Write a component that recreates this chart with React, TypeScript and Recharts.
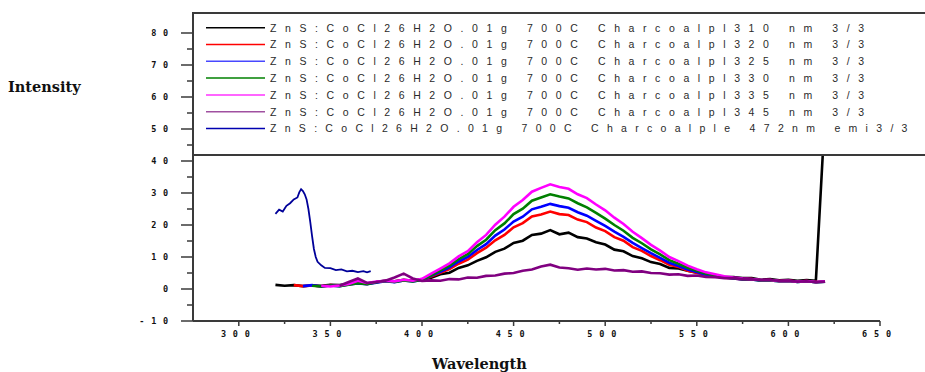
import React from "react"
import { LineChart, Line, XAxis, YAxis } from "recharts"

// emission wavelength grid (nm), shared by the six PL scans
const gridWl = [
  320, 325, 330, 335, 340, 345, 350, 355, 360, 365,
  370, 375, 380, 385, 390, 395, 400, 405, 410, 415,
  420, 425, 430, 435, 440, 445, 450, 455, 460, 465,
  470, 475, 480, 485, 490, 495, 500, 505, 510, 515,
  520, 525, 530, 535, 540, 545, 550, 555, 560, 565,
  570, 575, 580, 585, 590, 595, 600, 605, 610, 615,
  620,
]

const pl310 = [
  1.3, 1.0, 1.2, 0.9, 1.1, 1.0, 1.3, 1.2, 1.6, 1.9,
  1.7, 2.2, 2.6, 2.4, 2.9, 2.6, 3.0, 3.5, 4.6, 5.1,
  6.6, 7.4, 8.8, 9.9, 11.6, 12.6, 14.4, 15.1, 16.9, 17.3,
  18.4, 17.1, 17.6, 16.2, 15.8, 14.6, 13.9, 12.3, 11.8, 10.3,
  9.6, 8.4, 7.8, 6.6, 6.4, 5.7, 5.1, 4.6, 4.3, 3.8,
  3.7, 3.4, 3.4, 2.9, 3.1, 2.7, 2.9, 2.6, 2.8, 2.6,
  55,
]
const pl320 = [
  null, null, 1.2, 0.9, 1.1, 0.8, 1.2, 1.0, 1.5, 1.8,
  1.6, 2.1, 2.5, 2.3, 2.8, 2.5, 2.9, 3.9, 5.1, 6.2,
  7.9, 9.2, 11.2, 12.9, 15.2, 16.9, 19.3, 20.6, 22.7, 23.3,
  24.2, 23.4, 23.1, 21.7, 20.9, 19.2, 18.1, 16.2, 15.1, 13.1,
  11.9, 10.3, 9.0, 7.6, 6.9, 5.7, 5.1, 4.3, 4.0, 3.5,
  3.3, 3.0, 3.1, 2.7, 2.8, 2.5, 2.6, 2.3, 2.5, 2.2,
  2.4,
]
const pl325 = [
  null, null, null, 0.9, 1.2, 0.8, 1.1, 0.9, 1.4, 1.7,
  1.5, 2.0, 2.4, 2.1, 2.7, 2.4, 2.8, 4.1, 5.4, 6.8,
  8.6, 10.0, 12.2, 14.0, 16.7, 18.6, 21.1, 22.6, 24.9, 25.7,
  26.6, 25.9, 25.4, 24.0, 22.9, 21.3, 19.7, 17.9, 16.3, 14.4,
  12.8, 11.2, 9.7, 8.2, 7.2, 6.1, 5.3, 4.5, 4.1, 3.6,
  3.3, 3.0, 3.0, 2.6, 2.7, 2.4, 2.5, 2.2, 2.4, 2.1,
  2.3,
]
const pl330 = [
  null, null, null, null, 1.0, 0.8, 1.1, 0.9, 1.3, 1.8,
  1.5, 2.1, 2.5, 2.2, 2.7, 2.4, 2.9, 4.3, 5.8, 7.3,
  9.3, 10.9, 13.4, 15.4, 18.4, 20.5, 23.4, 25.1, 27.6, 28.6,
  29.6, 28.9, 28.3, 26.8, 25.5, 23.8, 22.0, 20.0, 18.2, 16.0,
  14.3, 12.4, 10.8, 9.0, 7.9, 6.6, 5.7, 4.8, 4.3, 3.7,
  3.4, 3.1, 3.0, 2.7, 2.7, 2.4, 2.5, 2.2, 2.4, 2.1,
  2.3,
]
const pl335 = [
  null, null, null, null, null, 1.0, 0.8, 1.1, 1.6, 2.6,
  1.9, 2.3, 2.6, 2.4, 2.9, 2.6, 3.2, 4.8, 6.4, 8.0,
  10.2, 11.8, 14.6, 16.9, 20.1, 22.6, 25.7, 27.8, 30.4, 31.6,
  32.7, 31.9, 31.3, 29.6, 28.4, 26.4, 24.6, 22.3, 20.3, 17.9,
  15.9, 13.8, 12.0, 10.0, 8.7, 7.3, 6.2, 5.2, 4.6, 4.0,
  3.6, 3.3, 3.1, 2.8, 2.8, 2.5, 2.6, 2.3, 2.5, 2.2,
  2.4,
]
const pl345 = [
  null, null, null, null, null, null, null, 1.0, 2.2, 3.3,
  1.9, 2.2, 2.6, 3.6, 4.8, 3.3, 2.5, 2.7, 2.6, 3.1,
  3.0, 3.6, 3.5, 4.1, 4.2, 4.8, 5.0, 5.7, 6.1, 7.0,
  7.6, 6.7, 6.5, 6.0, 6.4, 6.1, 6.3, 5.8, 5.9, 5.4,
  5.5, 5.0, 4.9, 4.5, 4.6, 4.1, 4.2, 3.8, 3.7, 3.4,
  3.4, 3.1, 3.0, 2.8, 2.9, 2.5, 2.6, 2.3, 2.4, 2.1,
  2.3,
]

// excitation scan (emission fixed at 472 nm)
const pleWl = [
  320, 322, 324, 326, 328, 330, 332, 333, 334, 335,
  336, 337, 338, 339, 340, 341, 342, 343, 345, 347,
  350, 353, 356, 359, 362, 365, 368, 370, 372,
]
const ple472 = [
  23.5, 24.8, 24.2, 26.0, 26.8, 28.0, 28.6, 30.2, 31.2, 30.6,
  29.6, 28.0, 25.0, 21.0, 16.5, 12.5, 10.0, 8.5, 7.4, 6.6,
  6.5, 5.9, 6.1, 5.5, 5.7, 5.3, 5.6, 5.2, 5.6,
]

const legendLabels = [
  "ZnS:CoCl26H2O.01g 700C Charcoalpl310 nm 3/3",
  "ZnS:CoCl26H2O.01g 700C Charcoalpl320 nm 3/3",
  "ZnS:CoCl26H2O.01g 700C Charcoalpl325 nm 3/3",
  "ZnS:CoCl26H2O.01g 700C Charcoalpl330 nm 3/3",
  "ZnS:CoCl26H2O.01g 700C Charcoalpl335 nm 3/3",
  "ZnS:CoCl26H2O.01g 700C Charcoalpl345 nm 3/3",
  "ZnS:CoCl26H2O.01g 700C Charcoalple 472nm emi3/3",
]
const lineColors = ["#000000", "#ff0000", "#0000ff", "#008000", "#ff00ff", "#800080", "#000099"]
const keyColors = ["#000000", "#ff0000", "#4848ff", "#008000", "#ff33ff", "#a050a0", "#0000b0"]

const xTicks = [300, 325, 350, 375, 400, 425, 450, 475, 500, 525, 550, 575, 600, 625, 650]
const yTicks = [-10, -5, 0, 5, 10, 15, 20, 25, 30, 35, 40, 45, 50, 55, 60, 65, 70, 75, 80]

const AX = "#3a3a3a"
const tickFont = { fontFamily: "DejaVu Sans Mono", fontSize: 8.5, fontWeight: 700, letterSpacing: 6.8 }
const titleFont = { fontFamily: "DejaVu Serif", fontSize: 14.5, fontWeight: 700 }

const toPoints = (wl: number[], vals: (number | null)[]) =>
  wl.map((w, i) => ({ w, v: vals[i] })).filter((p) => p.v !== null)

const series = [
  toPoints(gridWl, pl310),
  toPoints(gridWl, pl320),
  toPoints(gridWl, pl325),
  toPoints(gridWl, pl330),
  toPoints(gridWl, pl335),
  toPoints(gridWl, pl345),
  toPoints(pleWl, ple472),
]

function XTick(props: any) {
  const { x, y, payload } = props
  const major = payload.value % 50 === 0
  return (
    <g>
      <line x1={x} x2={x} y1={y} y2={y + (major ? 5 : 3)} stroke={AX} strokeWidth={1.5} />
      {major && (
        <text x={x} y={y + 15.5} textAnchor="middle" fill="#111" style={tickFont}>
          {payload.value}
        </text>
      )}
    </g>
  )
}

function YTick(props: any) {
  const { x, y, payload } = props
  const major = payload.value % 10 === 0
  return (
    <g>
      <line x1={x - (major ? 12 : 6)} x2={x} y1={y} y2={y} stroke={AX} strokeWidth={1.5} />
      {major && (
        <text x={x - 18} y={y + 3} textAnchor="end" fill="#111" style={tickFont}>
          {payload.value}
        </text>
      )}
    </g>
  )
}

export default function App() {
  return (
    <div style={{ position: "absolute", left: 0, top: 0, width: 925, height: 372, overflow: "hidden", background: "#fff" }}>
      <LineChart width={925} height={372} margin={{ top: 13, right: 45, bottom: 21, left: 133 }}>
        <XAxis
          type="number"
          dataKey="w"
          domain={[275, 650]}
          allowDataOverflow
          ticks={xTicks}
          interval={0}
          tickSize={0}
          tickMargin={0}
          tickLine={false}
          tick={<XTick />}
          height={30}
          axisLine={{ stroke: AX, strokeWidth: 2 }}
        />
        <YAxis
          type="number"
          domain={[-10, 86.25]}
          allowDataOverflow
          ticks={yTicks}
          interval={0}
          tickSize={0}
          tickMargin={0}
          tickLine={false}
          tick={<YTick />}
          width={60}
          axisLine={{ stroke: AX, strokeWidth: 2 }}
        />
        {series.map((data, i) => (
          <Line
            key={i}
            data={data}
            dataKey="v"
            type="linear"
            stroke={lineColors[i]}
            strokeWidth={i === 6 ? 1.8 : 2.6}
            dot={false}
            isAnimationActive={false}
          />
        ))}
      </LineChart>
      <svg width={925} height={372} style={{ position: "absolute", left: 0, top: 0 }}>
        <text x={8} y={91.5} fill="#111" style={titleFont}>
          Intensity
        </text>
        <text x={432} y={369} fill="#111" style={titleFont}>
          Wavelength
        </text>
        <rect x={193} y={13} width={800} height={142} fill="#fff" stroke={AX} strokeWidth={2} />
        {legendLabels.map((label, i) => {
          const cy = 27.7 + i * 16.8
          return (
            <g key={i}>
              <line x1={206} x2={265} y1={cy} y2={cy} stroke={keyColors[i]} strokeWidth={1.5} />
              <text
                x={270}
                y={cy + 3.8}
                fill="#2a2a2a"
                style={{
                  fontFamily: "Liberation Sans",
                  fontSize: 10.5,
                  letterSpacing: i === 6 ? 8.3 : 8.6,
                }}
              >
                {label}
              </text>
            </g>
          )
        })}
      </svg>
    </div>
  )
}
